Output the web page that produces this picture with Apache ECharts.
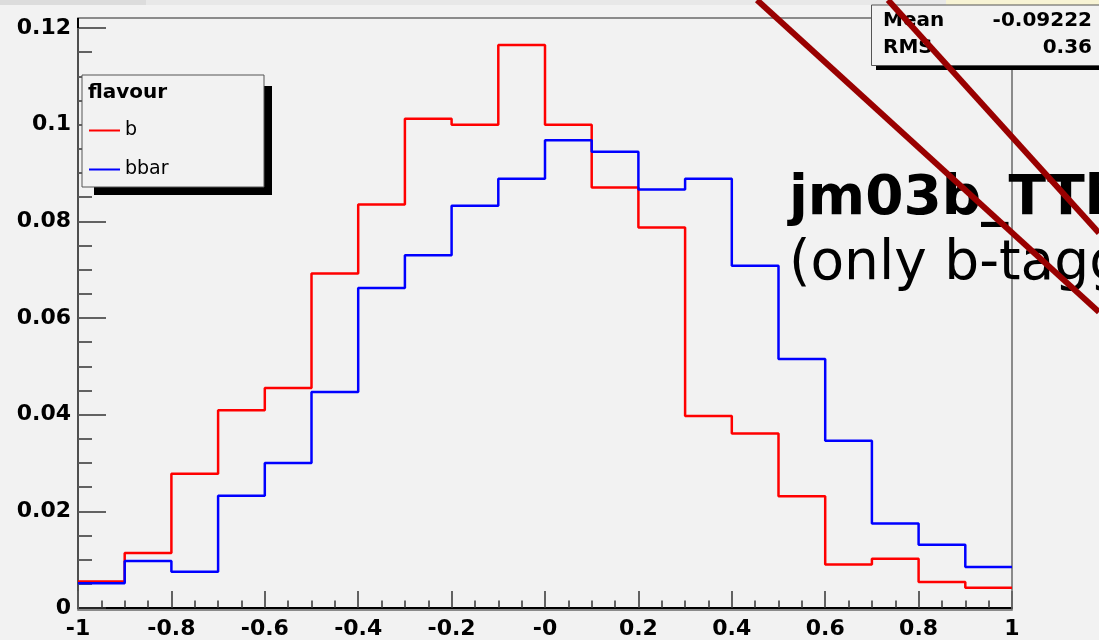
<!DOCTYPE html>
<html>
<head>
<meta charset="utf-8">
<title>jm03b_TTbar flavour</title>
<script src="https://cdn.jsdelivr.net/npm/echarts@6/dist/echarts.min.js"></script>
<style>
  html, body { margin: 0; padding: 0; background: #f2f2f2; }
  #chart { width: 1099px; height: 640px; }
</style>
</head>
<body>
<div id="chart"></div>
<script>
// Bin edges of the histogram (20 bins from -1 to 1)
const binEdges = [-1.0, -0.9, -0.8, -0.7, -0.6, -0.5, -0.4, -0.3, -0.2, -0.1, 0.0,
                  0.1, 0.2, 0.3, 0.4, 0.5, 0.6, 0.7, 0.8, 0.9, 1.0];

// Normalised bin contents per flavour
const flavourB = [0.0055, 0.0114, 0.0278, 0.0409, 0.0455, 0.0692, 0.0835, 0.1012, 0.1000, 0.1165,
                  0.1000, 0.0870, 0.0787, 0.0397, 0.0361, 0.0231, 0.0090, 0.0102, 0.0054, 0.0042];
const flavourBbar = [0.0051, 0.0097, 0.0075, 0.0232, 0.0300, 0.0447, 0.0662, 0.0730, 0.0832, 0.0888,
                     0.0968, 0.0944, 0.0866, 0.0888, 0.0708, 0.0515, 0.0346, 0.0175, 0.0131, 0.0085];

// Tick labels
const xTickLabels = ['-1', '-0.8', '-0.6', '-0.4', '-0.2', '-0', '0.2', '0.4', '0.6', '0.8', '1'];
const yTickLabels = ['0', '0.02', '0.04', '0.06', '0.08', '0.1', '0.12'];

// Statistics box entries
const statNames = ['Mean', 'RMS'];
const statValues = ['-0.09222', '0.36'];

// Step outline: one point per lower bin edge plus the final upper edge
function outline(values) {
  const pts = values.map((v, i) => [binEdges[i], v]);
  pts.push([binEdges[binEdges.length - 1], values[values.length - 1]]);
  return pts;
}

const chart = echarts.init(document.getElementById('chart'), null, { renderer: 'canvas' });

const labelFont = 'DejaVu Sans';
const gridL = 78, gridR = 1012, gridT = 28, gridB = 610, frameTop = 18;

const graphics = [
  // top strip
  { type: 'rect', z: 1, shape: { x: 0, y: 0, width: 146, height: 5 }, style: { fill: '#dcdcdc' } },
  { type: 'rect', z: 1, shape: { x: 146, y: 0, width: 800, height: 5 }, style: { fill: '#e8e8e8' } },
  { type: 'rect', z: 1, shape: { x: 946, y: 0, width: 153, height: 5 }, style: { fill: '#f7f3d4' } },
  // plot frame
  { type: 'rect', z: 1, shape: { x: gridL, y: frameTop, width: gridR - gridL, height: gridB - frameTop },
    style: { fill: 'none', stroke: '#6a6a6a', lineWidth: 1.5 } },
  { type: 'line', z: 1, shape: { x1: gridL, y1: frameTop, x2: gridL, y2: gridT }, style: { stroke: '#000', lineWidth: 2 } },
  // legend box with shadow
  { type: 'rect', z: 10, shape: { x: 94, y: 86, width: 178, height: 109 }, style: { fill: '#000' } },
  { type: 'rect', z: 11, shape: { x: 82, y: 75, width: 182, height: 112 },
    style: { fill: '#f2f2f2', stroke: '#555', lineWidth: 1 } },
  { type: 'text', z: 12, x: 88, y: 93,
    style: { text: 'flavour', fill: '#000', font: 'bold 20px "DejaVu Sans"', verticalAlign: 'middle', align: 'left' } },
  // statistics box with shadow
  { type: 'rect', z: 10, shape: { x: 876, y: 62, width: 240, height: 8 }, style: { fill: '#000' } },
  { type: 'rect', z: 11, shape: { x: 871.5, y: 5, width: 240, height: 60.5 },
    style: { fill: '#f2f2f2', stroke: '#555', lineWidth: 1 } },
  // overlay text
  { type: 'text', z: 30, x: 789, y: 200,
    style: { text: 'jm03b_TTbar', fill: '#000', font: 'bold 55px "DejaVu Sans"', verticalAlign: 'middle', align: 'left' } },
  { type: 'text', z: 30, x: 789, y: 265,
    style: { text: '(only b-tagged)', fill: '#000', font: '55px "DejaVu Sans"', verticalAlign: 'middle', align: 'left' } },
  // strike lines
  { type: 'line', z: 40, shape: { x1: 757, y1: 0, x2: 1099, y2: 312 },
    style: { stroke: '#990000', lineWidth: 6 } },
  { type: 'line', z: 40, shape: { x1: 888, y1: 0, x2: 1099, y2: 233 },
    style: { stroke: '#990000', lineWidth: 6 } }
];

const statY = [21, 47.5];
statNames.forEach((name, i) => {
  graphics.push({ type: 'text', z: 12, x: 883, y: statY[i],
    style: { text: name, fill: '#000', font: 'bold 20px "DejaVu Sans"', verticalAlign: 'middle', align: 'left' } });
  graphics.push({ type: 'text', z: 12, x: 1092, y: statY[i],
    style: { text: statValues[i], fill: '#000', font: 'bold 20px "DejaVu Sans"', verticalAlign: 'middle', align: 'right' } });
});

chart.setOption({
  backgroundColor: '#f2f2f2',
  animation: false,
  grid: { left: gridL, right: 1099 - gridR, top: gridT, bottom: 640 - gridB, containLabel: false },
  xAxis: {
    type: 'value', min: -1, max: 1, interval: 0.2,
    axisLine: { show: true, onZero: false, lineStyle: { color: '#000', width: 2 } },
    axisTick: { show: true, inside: true, length: 17, lineStyle: { color: '#333', width: 1.5 } },
    minorTick: { show: true, splitNumber: 4, length: 7.5, lineStyle: { color: '#333', width: 1.5 } },
    splitLine: { show: false },
    axisLabel: {
      margin: 10, color: '#000', fontFamily: labelFont, fontWeight: 'bold', fontSize: 22,
      formatter: v => xTickLabels[Math.round((v + 1) / 0.2)]
    }
  },
  yAxis: {
    type: 'value', min: 0, max: 0.12, interval: 0.02,
    axisLine: { show: true, onZero: false, lineStyle: { color: '#000', width: 2 } },
    axisTick: { show: true, inside: true, length: 28, lineStyle: { color: '#333', width: 1.5 } },
    minorTick: { show: true, splitNumber: 4, length: 14, lineStyle: { color: '#333', width: 1.5 } },
    splitLine: { show: false },
    axisLabel: {
      margin: 7, color: '#000', fontFamily: labelFont, fontWeight: 'bold', fontSize: 22,
      formatter: v => yTickLabels[Math.round(v / 0.02)]
    }
  },
  legend: {
    orient: 'vertical', left: 89, top: 121, padding: 0, itemGap: 20, z: 20,
    itemWidth: 31, itemHeight: 2, icon: 'rect',
    textStyle: { fontFamily: labelFont, fontSize: 19, color: '#000' },
    data: ['b', 'bbar']
  },
  series: [
    { name: 'b', type: 'line', step: 'end', symbol: 'none', z: 3,
      itemStyle: { color: '#ff0000' }, lineStyle: { color: '#ff0000', width: 2.5 },
      data: outline(flavourB) },
    { name: 'bbar', type: 'line', step: 'end', symbol: 'none', z: 3,
      itemStyle: { color: '#0000ff' }, lineStyle: { color: '#0000ff', width: 2.5 },
      data: outline(flavourBbar) }
  ],
  graphic: graphics
});
</script>
</body>
</html>
